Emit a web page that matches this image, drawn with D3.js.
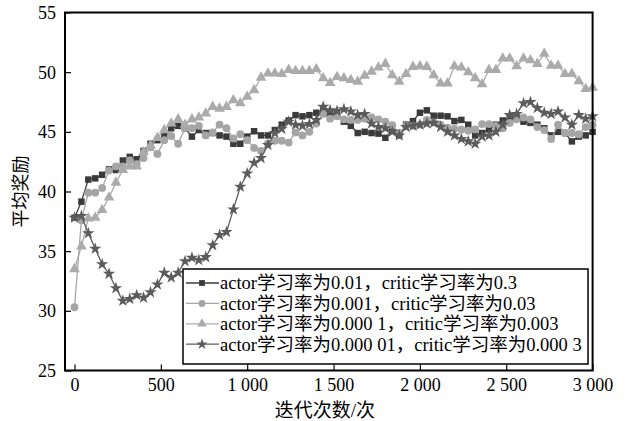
<!DOCTYPE html>
<html>
<head>
<meta charset="utf-8">
<script src="https://cdn.jsdelivr.net/npm/d3@7"></script>
<style>
  body { margin: 0; background: #fff; }
  text { font-family: "Liberation Serif", "Noto Sans CJK SC", serif; }
</style>
</head>
<body>
<div id="chartDiv"></div>
<script>
// iterations, one point every 40
var steps = d3.range(0, 3001, 40);

var seriesNames = [
  "actor学习率为0.01，critic学习率为0.3",
  "actor学习率为0.001，critic学习率为0.03",
  "actor学习率为0.000 1，critic学习率为0.003",
  "actor学习率为0.000 01，critic学习率为0.000 3"
];

var reward1 = [37.8, 39.15, 41.0, 41.1, 41.4, 41.85, 41.8, 42.6, 42.9, 42.7,
  43.4, 44.0, 44.3, 44.7, 45.3, 45.5, 45.3, 44.6, 45.15, 44.9,
  44.9, 44.7, 44.6, 44.0, 44.0, 44.6, 45.05, 44.7, 44.7, 45.15,
  45.6, 45.95, 46.4, 46.3, 46.4, 46.6, 46.8, 46.55, 46.55, 45.85,
  45.5, 44.9, 45.0, 44.9, 44.85, 44.5, 45.1, 44.7, 45.6, 45.9,
  46.6, 46.8, 46.35, 46.35, 46.3, 45.9, 46.0, 45.6, 44.7, 44.9,
  45.2, 45.6, 45.95, 46.2, 46.2, 45.85, 45.75, 45.6, 45.3, 44.7,
  45.0, 44.9, 44.2, 44.6, 44.7, 45.0];

var reward2 = [30.3, 37.6, 39.9, 39.9, 40.3, 41.75, 42.1, 42.1, 42.6, 42.3,
  42.8, 43.7, 43.15, 44.3, 44.65, 44.0, 45.3, 45.3, 45.5, 44.7,
  44.95, 45.6, 45.3, 44.45, 44.8, 44.3, 43.65, 43.4, 44.0, 44.25,
  44.25, 44.1, 44.95, 44.7, 45.0, 45.7, 46.5, 46.1, 46.3, 46.05,
  46.0, 46.0, 46.1, 46.2, 46.05, 45.85, 45.55, 44.9, 45.5, 45.5,
  45.6, 46.0, 45.8, 45.6, 45.35, 45.25, 45.2, 45.1, 45.2, 45.65,
  45.65, 45.5, 45.3, 45.75, 46.05, 46.2, 46.05, 45.4, 45.15, 44.4,
  45.6, 44.9, 44.9, 44.8, 45.4, 45.6];

var reward3 = [33.5, 35.4, 37.75, 37.8, 38.45, 39.5, 40.75, 41.8, 42.1, 42.1,
  43.3, 43.85, 44.5, 45.15, 45.7, 46.05, 45.6, 46.05, 46.2, 46.55,
  47.1, 46.95, 47.1, 47.65, 47.4, 47.95, 48.5, 49.55, 49.9, 49.9,
  49.85, 50.2, 50.1, 50.1, 50.1, 50.25, 49.5, 49.1, 49.6, 49.5,
  49.35, 49.2, 49.7, 50.05, 50.4, 50.7, 49.75, 49.2, 49.85, 50.45,
  50.5, 50.45, 49.75, 49.05, 49.05, 50.5, 50.4, 50.0, 49.5, 49.0,
  50.2, 50.2, 51.15, 51.15, 50.5, 51.15, 51.0, 50.7, 51.55, 50.55,
  50.55, 49.85, 49.85, 49.25, 48.6, 48.7];

var reward4 = [37.8, 37.95, 36.5, 35.2, 33.9, 33.1, 31.9, 30.85, 31.0, 31.3,
  31.1, 31.55, 32.2, 33.2, 32.8, 33.2, 34.15, 34.45, 34.25, 34.5,
  35.5, 36.35, 36.6, 38.5, 40.4, 41.5, 42.4, 42.8, 43.9, 44.9,
  45.25, 45.85, 45.6, 45.5, 45.65, 46.0, 47.1, 46.8, 46.75, 46.9,
  46.7, 46.4, 46.5, 45.7, 45.4, 45.3, 45.0, 44.7, 45.4, 45.5,
  45.6, 45.7, 45.75, 45.4, 45.0, 44.7, 44.4, 44.2, 44.0, 44.6,
  44.7, 45.0, 45.6, 46.4, 46.5, 47.4, 47.5, 47.0, 46.6, 46.5,
  46.7, 46.2, 45.6, 46.4, 46.1, 46.3];

var xTicks = [0, 500, 1000, 1500, 2000, 2500, 3000];
var yTicks = [25, 30, 35, 40, 45, 50, 55];

var allRewards = [reward1, reward2, reward3, reward4];
var colors = ["#3a3a3a", "#a5a5a5", "#ababab", "#5c5c5c"];
var symbols = [d3.symbolSquare, d3.symbolCircle, d3.symbolTriangle, d3.symbolStar];
var symbolSizes = [42, 48, 50, 48];

var width = 625, height = 421;
var mLeft = 65, mRight = 592.6, mTop = 12.5, mBottom = 370.5;

var svg = d3.select("#chartDiv").append("svg")
  .attr("width", width)
  .attr("height", height);

var x = d3.scaleLinear().domain([-55, 3000]).range([mLeft, mRight]);
var y = d3.scaleLinear().domain([25, 55]).range([mBottom, mTop]);

var fmt = function (d) { return d3.format(",")(d).replace(",", " "); };

//axes, ticks point inward
var xAxis = svg.append("g")
  .attr("transform", "translate(0," + mBottom + ")")
  .call(d3.axisBottom(x).tickValues(xTicks).tickSizeInner(-6).tickSizeOuter(0).tickPadding(10).tickFormat(fmt));

var yAxis = svg.append("g")
  .attr("transform", "translate(" + mLeft + ",0)")
  .call(d3.axisLeft(y).tickValues(yTicks).tickSizeInner(-6).tickSizeOuter(0).tickPadding(9));

[xAxis, yAxis].forEach(function (g) {
  g.select(".domain").remove();
  g.selectAll("line").attr("stroke", "#000").attr("stroke-width", 1.2);
  g.selectAll("text")
    .attr("fill", "#000")
    .style("font-size", "18px")
    .style("font-family", "'Liberation Serif', serif");
});
xAxis.selectAll("text").attr("dy", "0.6em");
yAxis.selectAll("text").attr("dy", "0.33em");

//series
var line = d3.line()
  .x(function (d, i) { return x(steps[i]); })
  .y(function (d) { return y(d); });

allRewards.forEach(function (vals, s) {
  svg.append("path")
    .datum(vals)
    .attr("fill", "none")
    .attr("stroke", colors[s])
    .attr("stroke-width", 1.3)
    .attr("d", line);

  svg.selectAll("path.m" + s)
    .data(vals)
    .enter().append("path")
    .attr("class", "m" + s)
    .attr("d", d3.symbol().type(symbols[s]).size(symbolSizes[s]))
    .attr("transform", function (d, i) { return "translate(" + x(steps[i]) + "," + y(d) + ")"; })
    .attr("fill", colors[s]);
});

//plot frame
svg.append("rect")
  .attr("x", mLeft)
  .attr("y", mTop)
  .attr("width", mRight - mLeft)
  .attr("height", mBottom - mTop)
  .attr("fill", "none")
  .attr("stroke", "#000")
  .attr("stroke-width", 2);

//legend
var legend = svg.append("g");
legend.append("rect")
  .attr("x", 183)
  .attr("y", 269)
  .attr("width", 405)
  .attr("height", 95)
  .attr("fill", "#fff")
  .attr("stroke", "#000")
  .attr("stroke-width", 1.5);

var rows = legend.selectAll("g.row")
  .data(seriesNames)
  .enter().append("g")
  .attr("class", "row")
  .attr("transform", function (d, i) { return "translate(0," + (283 + i * 20.4) + ")"; });

rows.append("line")
  .attr("x1", 186).attr("x2", 219)
  .attr("stroke", function (d, i) { return colors[i]; })
  .attr("stroke-width", 1.3);

rows.append("path")
  .attr("d", function (d, i) { return d3.symbol().type(symbols[i]).size(symbolSizes[i] * 0.8)(); })
  .attr("transform", "translate(202,0)")
  .attr("fill", function (d, i) { return colors[i]; });

rows.append("text")
  .attr("x", 220)
  .attr("dy", "0.35em")
  .style("font-size", "18.5px")
  .text(function (d) { return d; });

//axis titles
svg.append("text")
  .attr("x", (mLeft + mRight) / 2 - 4)
  .attr("y", 417)
  .attr("text-anchor", "middle")
  .style("font-size", "19px")
  .text("迭代次数/次");

svg.append("text")
  .attr("transform", "translate(27," + ((mTop + mBottom) / 2) + ") rotate(-90)")
  .attr("text-anchor", "middle")
  .style("font-size", "18px")
  .text("平均奖励");
</script>
</body>
</html>
